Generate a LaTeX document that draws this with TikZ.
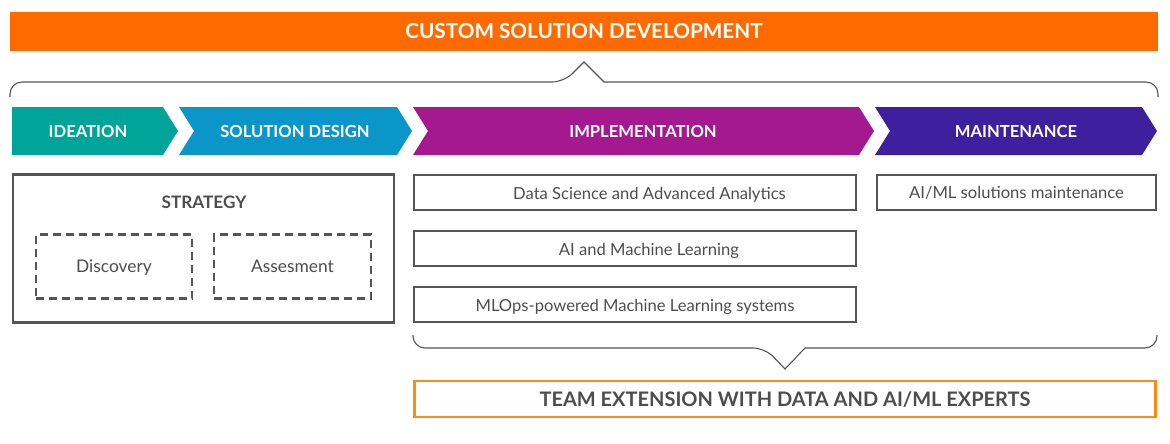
\documentclass[tikz,border=0pt]{standalone}
\usepackage{fontspec}
\setmainfont{Lato}
\definecolor{custorange}{HTML}{FF6A00}
\definecolor{teamorange}{HTML}{FF8A1C}
\definecolor{ideacol}{HTML}{00A499}
\definecolor{designcol}{HTML}{0A96C9}
\definecolor{implcol}{HTML}{A4198F}
\definecolor{maintcol}{HTML}{3E1F9E}
\definecolor{linegray}{HTML}{555555}
\definecolor{textgray}{HTML}{4D4D4D}
\tikzset{
  phase/.style={text=white, font=\fontsize{16.6}{19}\selectfont\bfseries, text height=12pt, text depth=0pt},
  service/.style={draw=linegray, line width=2.4pt, text=textgray, font=\fontsize{16.6}{19}\selectfont,
    minimum height=35pt, inner sep=0pt},
  label/.style={text=textgray, text height=12pt, text depth=0pt, inner sep=0pt},
  subtask/.style={draw=linegray, line width=2.2pt, dash pattern=on 8pt off 5pt, text=textgray,
    font=\fontsize{17.4}{20}\selectfont, minimum height=64pt, inner sep=0pt, text height=12.5pt, text depth=0pt},
  brace/.style={draw=linegray, line width=1.1pt}
}
\begin{document}
\begin{tikzpicture}[x=1pt,y=-1pt]
  \useasboundingbox (0,0) rectangle (1170,444);
  % top bar
  \node[fill=custorange, text=white, font=\fontsize{20.7}{24}\selectfont\bfseries,
    minimum width=1148pt, minimum height=39pt, inner sep=0pt, text height=15pt, text depth=0pt] (custom) at (584,31.5) {CUSTOM SOLUTION DEVELOPMENT};
  \draw[brace] (10,97) [rounded corners=12pt] |- (564,82) [sharp corners] -- (584,62) -- (604,82)
    [rounded corners=12pt] -| (1158,97);
  % phases
  \fill[ideacol] (12,107) -- (163,107) -- (178,131) -- (163,155) -- (12,155) -- cycle;
  \fill[designcol] (179,107) -- (397,107) -- (412,131) -- (397,155) -- (179,155) -- (194,131) -- cycle;
  \fill[implcol] (413,107) -- (859,107) -- (874,131) -- (859,155) -- (413,155) -- (428,131) -- cycle;
  \fill[maintcol] (875,107) -- (1142,107) -- (1157,131) -- (1142,155) -- (875,155) -- (890,131) -- cycle;
  \node[phase] (ideation) at (88,131) {IDEATION};
  \node[phase] (design) at (295,131) {SOLUTION DESIGN};
  \node[phase] (impl) at (643,131) {IMPLEMENTATION};
  \node[phase] (maint) at (1016,131) {MAINTENANCE};
  % strategy
  \node[service, minimum width=381pt, minimum height=148pt] (strategy) at (203.5,248.5) {};
  \node[label, font=\fontsize{17.2}{20}\selectfont\bfseries] (stratlabel) at (204,202) {STRATEGY};
  \node[subtask, minimum width=156pt] (discovery) at (114,266.5) {Discovery};
  \node[subtask, minimum width=157pt] (assess) at (292.5,266.5) {Assesment};
  % implementation
  \node[service, minimum width=442pt] (datasci) at (635,192.5) {};
  \node[service, minimum width=442pt] (aiml) at (635,248.5) {};
  \node[service, minimum width=442pt] (mlops) at (635,304.5) {};
  \node[label, font=\fontsize{16.6}{19}\selectfont] (datascitext) at (649.5,193) {Data Science and Advanced Analytics};
  \node[label, font=\fontsize{16.6}{19}\selectfont] (aimltext) at (649,249) {AI and Machine Learning};
  \node[label, font=\fontsize{16.6}{19}\selectfont] (mlopstext) at (635,305) {MLOps-powered Machine Learning systems};
  % maintenance
  \node[service, minimum width=279pt, text height=12pt, text depth=0pt] (upkeep) at (1016.5,192.5) {AI/ML solutions maintenance};
  % team extension
  \draw[brace] (413,335) [rounded corners=12pt] |- (765,348) [sharp corners] -- (785,369) -- (805,348)
    [rounded corners=12pt] -| (1157,335);
  \node[draw=teamorange, line width=2.6pt, text=textgray, font=\fontsize{20}{23}\selectfont\bfseries,
    minimum width=741pt, minimum height=36pt, inner sep=0pt, text height=14.5pt, text depth=0pt] (team) at (785,399) {TEAM EXTENSION WITH DATA AND AI/ML EXPERTS};
\end{tikzpicture}
\end{document}
